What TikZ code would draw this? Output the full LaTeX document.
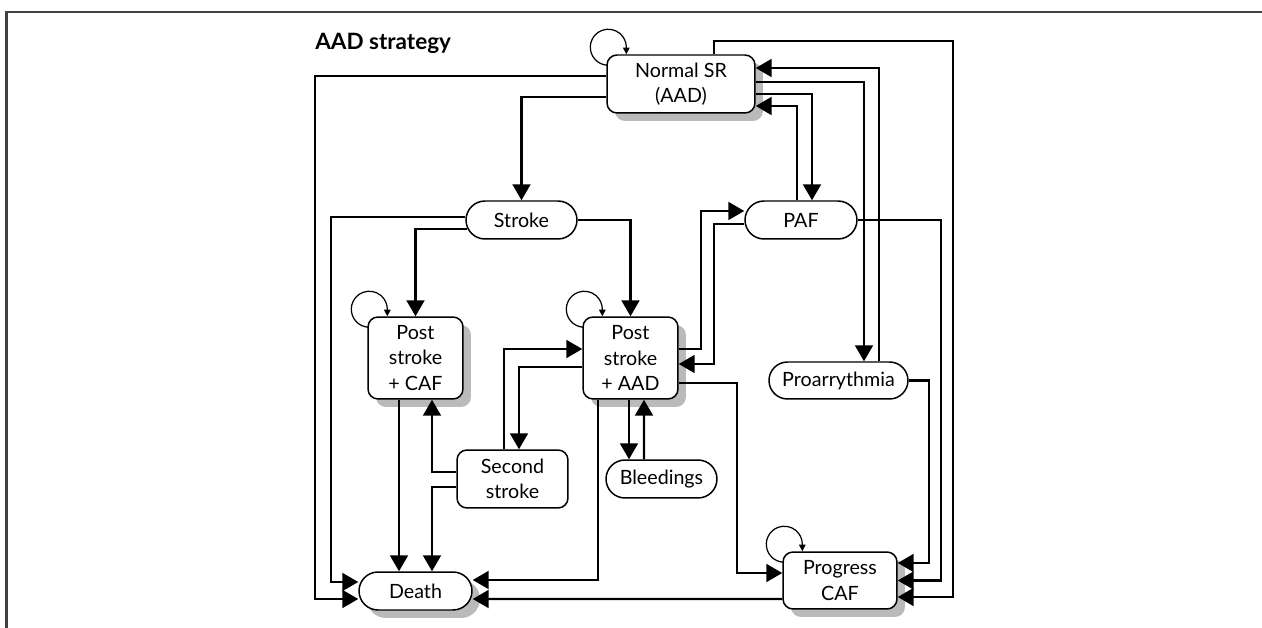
\documentclass[tikz,border=0pt]{standalone}
\usepackage{fontspec}
\setmainfont{Lato}
\usetikzlibrary{arrows.meta,calc,shapes.misc,shadows,backgrounds}

\tikzset{
  sbox/.style={draw, fill=white, rounded corners=0.2cm, align=center, inner sep=0pt, line width=0.85pt, font=\fontsize{11.2}{14.5}\selectfont},
  pill/.style={draw, fill=white, rounded rectangle, align=center, inner sep=0pt, line width=0.85pt, font=\fontsize{11.2}{14.5}\selectfont},
  shadowed/.style={drop shadow={shadow xshift=0.16cm, shadow yshift=-0.16cm, fill=black!27, opacity=1}},
  arr/.style={line width=1.15pt, -{Triangle[length=0.32cm, width=0.36cm]}},
  selfloop/.style={line width=0.7pt, -{Triangle[length=0.13cm, width=0.13cm]}},
  framel/.style={line width=1.2pt, black!75}
}

\begin{document}
\begin{tikzpicture}[x=0.02cm, y=0.02cm]
		\useasboundingbox (0,0) rectangle (1262,-628);
		\draw[framel] (1262,-12) -- (6.5,-12) -- (6.5,-628);
		\node[anchor=west, inner sep=0pt, font=\bfseries\fontsize{12.8}{15}\selectfont] (title) at (315,-43) {AAD strategy};
		% states
		\node[sbox, shadowed, minimum width=2.96cm, minimum height=1.16cm] (nsr) at (681,-84) {Normal SR\\(AAD)};
		\node[pill, minimum width=2.22cm, minimum height=0.76cm] (stroke) at (521.5,-220) {Stroke};
		\node[pill, minimum width=2.24cm, minimum height=0.76cm] (paf) at (801,-220) {PAF};
		\node[sbox, shadowed, minimum width=1.9cm, minimum height=1.64cm] (pscaf) at (415.5,-358) {Post\\stroke\\+ CAF};
		\node[sbox, shadowed, minimum width=1.9cm, minimum height=1.64cm] (psaad) at (630.5,-358) {Post\\stroke\\+ AAD};
		\node[pill, minimum width=2.78cm, minimum height=0.74cm] (proa) at (838.5,-380.5) {Proarrythmia};
		\node[sbox, minimum width=2.22cm, minimum height=1.16cm] (second) at (512.5,-479) {Second\\stroke};
		\node[pill, minimum width=2.22cm, minimum height=0.76cm] (bleed) at (661.5,-479) {Bleedings};
		\node[pill, shadowed, minimum width=2.26cm, minimum height=0.76cm] (death) at (415.5,-591) {Death};
		\node[sbox, shadowed, minimum width=2.28cm, minimum height=1.14cm] (pcaf) at (840,-580.5) {Progress\\CAF};
		% self loops
		\begin{scope}[on background layer]
		\foreach \n in {nsr,pscaf,psaad,pcaf}{\draw[selfloop] ($(\n.north west)+(8.2,-9.9)$) arc[start angle=-70, end angle=-360, radius=18] -- ++(0,-7);}
		\end{scope}
		% transitions
		\draw[arr] ($(nsr.west)+(0,8)$) -- ++(-291,0) |- ($(death.west)+(0,-8)$);
		\draw[arr] ($(nsr.west)+(0,-13)$) -| (stroke.north);
		\draw[arr] ($(nsr.north)+(33,0)$) -- ++(0,13) -- ++(239,0) |- ($(pcaf.east)+(0,-16.5)$);
		\draw[arr] ($(nsr.east)+(0,2)$) -| ($(proa.north)+(25.5,0)$);
		\draw[arr] ($(nsr.east)+(0,-10)$) -| ($(paf.north)+(11,0)$);
		\draw[arr] ($(paf.north)+(-4,0)$) |- ($(nsr.east)+(0,-22)$);
		\draw[arr] ($(proa.north)+(40.5,0)$) |- ($(nsr.east)+(0,16)$);
		\draw[arr] ($(stroke.west)+(0,3)$) -- ++(-134,0) |- ($(death.west)+(0,9)$);
		\draw[arr] ($(stroke.west)+(2,-9)$) -| (pscaf.north);
		\draw[arr] (stroke.east) -| (psaad.north);
		\draw[arr] ($(paf.west)+(0,-4)$) -- ++(-30,0) |- ($(psaad.east)+(0,-6)$);
		\draw[arr] ($(psaad.east)+(0,9)$) -- ++(22,0) |- ($(paf.west)+(0,9)$);
		\draw[arr] (paf.east) -- ++(83,0) |- (pcaf.east);
		\draw[arr] (proa.east) -- ++(20,0) |- ($(pcaf.east)+(0,17.5)$);
		\draw[arr] ($(psaad.east)+(0,-25)$) -- ++(58,0) |- ($(pcaf.west)+(0,7.5)$);
		\draw[arr] ($(psaad.west)+(0,-9)$) -| ($(second.north)+(6.5,0)$);
		\draw[arr] ($(second.north)+(-8.5,0)$) |- ($(psaad.west)+(0,9)$);
		\draw[arr] ($(psaad.south)+(-1.5,0)$) -- ($(bleed.north)+(-32.5,0)$);
		\draw[arr] ($(bleed.north)+(-17.5,0)$) -- ($(psaad.south)+(13.5,0)$);
		\draw[arr] ($(psaad.south)+(-32.5,0)$) |- ($(death.east)+(0,11)$);
		\draw[arr] ($(second.west)+(0,7)$) -| ($(pscaf.south)+(16.5,0)$);
		\draw[arr] ($(second.west)+(0,-8)$) -| ($(death.north)+(16.5,0)$);
		\draw[arr] ($(pscaf.south)+(-16.5,0)$) -- ($(death.north)+(-16.5,0)$);
		\draw[arr] ($(pcaf.west)+(0,-18.5)$) -- ($(death.east)+(0,-8)$);
\end{tikzpicture}
\end{document}
